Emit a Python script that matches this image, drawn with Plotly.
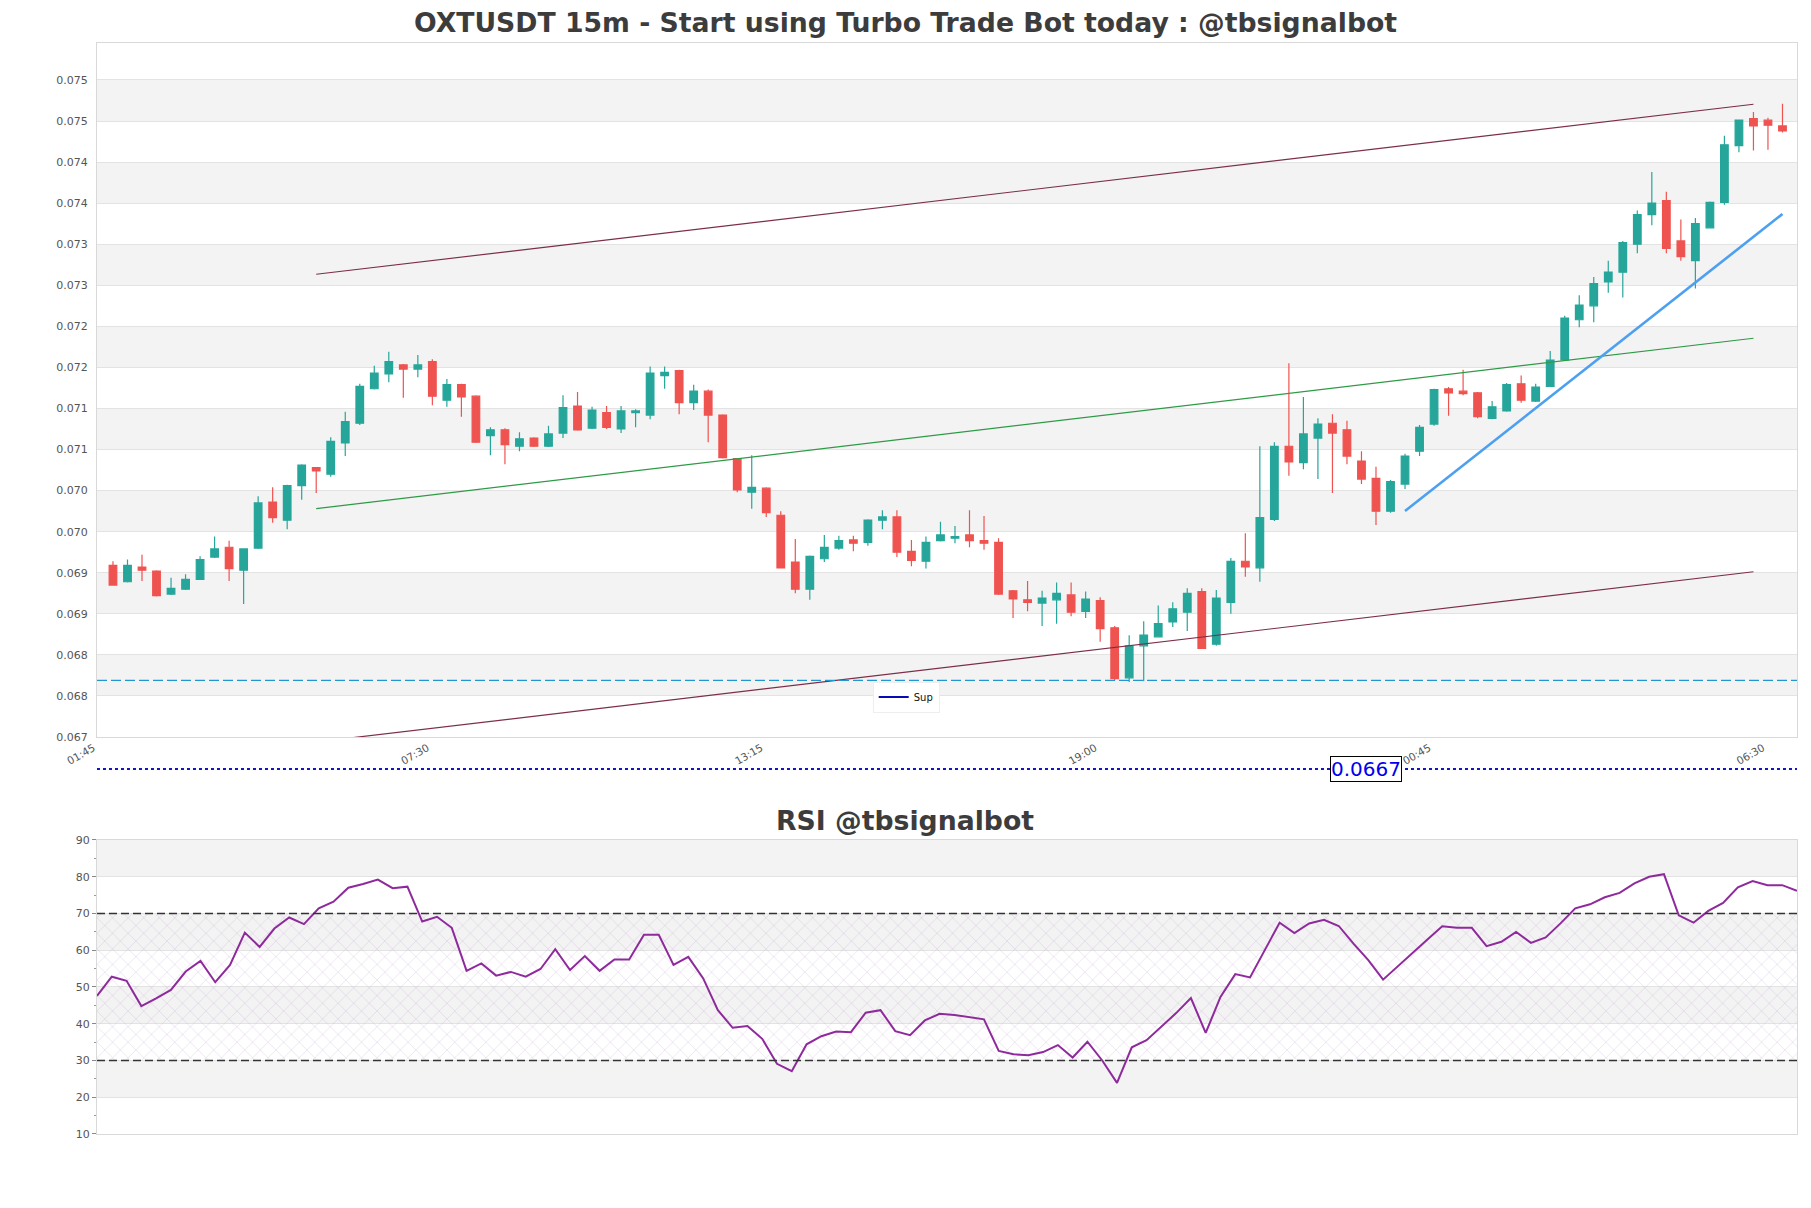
import numpy as np
import plotly.graph_objects as go

# === DATA (15m candles, first candle 02:00) ===
opens = [0.06909, 0.06889, 0.06907, 0.06902, 0.06874, 0.06880, 0.06892, 0.06919, 0.06931, 0.06903,
         0.06930, 0.06986, 0.06964, 0.07006, 0.07028, 0.07020, 0.07058, 0.07082, 0.07124, 0.07142,
         0.07153, 0.07148, 0.07157, 0.07110, 0.07129, 0.07115, 0.07067, 0.07074, 0.07054, 0.07064,
         0.07054, 0.07070, 0.07103, 0.07076, 0.07095, 0.07075, 0.07095, 0.07092, 0.07140, 0.07146,
         0.07107, 0.07121, 0.07092, 0.07039, 0.06998, 0.07003, 0.06970, 0.06913, 0.06880, 0.06917,
         0.06930, 0.06940, 0.06937, 0.06964, 0.06968, 0.06926, 0.06914, 0.06939, 0.06942, 0.06946,
         0.06939, 0.06937, 0.06878, 0.06867, 0.06863, 0.06867, 0.06873, 0.06853, 0.06866, 0.06833,
         0.06772, 0.06811, 0.06822, 0.06840, 0.06852, 0.06877, 0.06813, 0.06864, 0.06914, 0.06906,
         0.06965, 0.07054, 0.07034, 0.07064, 0.07082, 0.07074, 0.07036, 0.07015, 0.06975, 0.07008,
         0.07048, 0.07081, 0.07124, 0.07121, 0.07119, 0.07088, 0.07097, 0.07130, 0.07109, 0.07127,
         0.07159, 0.07208, 0.07225, 0.07254, 0.07266, 0.07300, 0.07336, 0.07353, 0.07304, 0.07280,
         0.07320, 0.07351, 0.07420, 0.07453, 0.07451, 0.07444]
highs = [0.06914, 0.06916, 0.06922, 0.06903, 0.06894, 0.06898, 0.06920, 0.06944, 0.06939, 0.06929,
         0.06993, 0.07004, 0.07007, 0.07032, 0.07028, 0.07065, 0.07096, 0.07130, 0.07152, 0.07169,
         0.07154, 0.07165, 0.07160, 0.07136, 0.07130, 0.07116, 0.07077, 0.07076, 0.07071, 0.07065,
         0.07079, 0.07116, 0.07120, 0.07102, 0.07103, 0.07103, 0.07099, 0.07151, 0.07151, 0.07147,
         0.07129, 0.07123, 0.07093, 0.07039, 0.07043, 0.07004, 0.06975, 0.06941, 0.06921, 0.06946,
         0.06945, 0.06945, 0.06965, 0.06976, 0.06976, 0.06940, 0.06944, 0.06962, 0.06957, 0.06976,
         0.06969, 0.06942, 0.06879, 0.06890, 0.06878, 0.06888, 0.06888, 0.06877, 0.06870, 0.06835,
         0.06824, 0.06841, 0.06860, 0.06864, 0.06881, 0.06881, 0.06879, 0.06918, 0.06948, 0.07054,
         0.07059, 0.07155, 0.07114, 0.07088, 0.07093, 0.07085, 0.07048, 0.07029, 0.07013, 0.07045,
         0.07080, 0.07124, 0.07126, 0.07147, 0.07120, 0.07109, 0.07131, 0.07140, 0.07130, 0.07170,
         0.07213, 0.07238, 0.07260, 0.07280, 0.07304, 0.07341, 0.07388, 0.07364, 0.07330, 0.07332,
         0.07352, 0.07432, 0.07451, 0.07461, 0.07454, 0.07471]
lows = [0.06884, 0.06888, 0.06890, 0.06871, 0.06873, 0.06879, 0.06891, 0.06918, 0.06890, 0.06862,
        0.06929, 0.06961, 0.06953, 0.06989, 0.06997, 0.07017, 0.07042, 0.07080, 0.07123, 0.07132,
        0.07113, 0.07138, 0.07104, 0.07102, 0.07090, 0.07058, 0.07043, 0.07032, 0.07048, 0.07053,
        0.07053, 0.07064, 0.07073, 0.07075, 0.07075, 0.07070, 0.07077, 0.07087, 0.07124, 0.07093,
        0.07098, 0.07059, 0.07039, 0.06998, 0.06978, 0.06968, 0.06905, 0.06875, 0.06867, 0.06913,
        0.06928, 0.06926, 0.06933, 0.06953, 0.06919, 0.06908, 0.06905, 0.06938, 0.06936, 0.06931,
        0.06928, 0.06873, 0.06845, 0.06853, 0.06835, 0.06838, 0.06847, 0.06845, 0.06816, 0.06769,
        0.06767, 0.06768, 0.06821, 0.06834, 0.06829, 0.06807, 0.06811, 0.06850, 0.06895, 0.06889,
        0.06963, 0.07018, 0.07026, 0.07014, 0.06997, 0.07032, 0.07008, 0.06958, 0.06973, 0.07002,
        0.07042, 0.07079, 0.07091, 0.07116, 0.07088, 0.07087, 0.07096, 0.07107, 0.07108, 0.07126,
        0.07158, 0.07199, 0.07205, 0.07241, 0.07235, 0.07289, 0.07323, 0.07289, 0.07280, 0.07246,
        0.07319, 0.07348, 0.07412, 0.07414, 0.07415, 0.07436]
closes = [0.06885, 0.06909, 0.06903, 0.06872, 0.06881, 0.06892, 0.06916, 0.06929, 0.06905, 0.06929,
          0.06985, 0.06967, 0.07006, 0.07031, 0.07024, 0.07060, 0.07084, 0.07127, 0.07143, 0.07157,
          0.07148, 0.07153, 0.07115, 0.07129, 0.07114, 0.07059, 0.07074, 0.07056, 0.07063, 0.07054,
          0.07069, 0.07101, 0.07074, 0.07098, 0.07077, 0.07097, 0.07097, 0.07143, 0.07144, 0.07107,
          0.07121, 0.07092, 0.07040, 0.07001, 0.07004, 0.06973, 0.06906, 0.06880, 0.06920, 0.06931,
          0.06939, 0.06936, 0.06964, 0.06968, 0.06925, 0.06915, 0.06937, 0.06946, 0.06944, 0.06939,
          0.06936, 0.06874, 0.06868, 0.06864, 0.06869, 0.06875, 0.06852, 0.06868, 0.06832, 0.06771,
          0.06811, 0.06824, 0.06838, 0.06856, 0.06875, 0.06808, 0.06869, 0.06914, 0.06907, 0.06967,
          0.07054, 0.07035, 0.07069, 0.07081, 0.07070, 0.07042, 0.07014, 0.06975, 0.07011, 0.07042,
          0.07077, 0.07123, 0.07119, 0.07118, 0.07090, 0.07102, 0.07129, 0.07110, 0.07126, 0.07159,
          0.07210, 0.07226, 0.07252, 0.07266, 0.07302, 0.07336, 0.07350, 0.07295, 0.07285, 0.07325,
          0.07351, 0.07421, 0.07451, 0.07444, 0.07445, 0.07438]

rsi = [47.6, 52.8, 51.7, 44.8, 46.9, 49.2, 54.2, 57.1, 51.3, 56.0,
       64.8, 60.9, 65.9, 68.9, 67.1, 71.4, 73.2, 77.0, 78.0, 79.2,
       76.9, 77.3, 67.8, 69.1, 66.1, 54.4, 56.4, 53.1, 54.1, 52.8,
       54.9, 60.3, 54.6, 58.4, 54.4, 57.5, 57.5, 64.2, 64.2, 56.0,
       58.2, 52.4, 43.7, 38.9, 39.4, 35.9, 29.1, 27.1, 34.4, 36.6,
       37.9, 37.7, 43.0, 43.7, 38.0, 36.9, 40.9, 42.7, 42.4, 41.9,
       41.2, 32.6, 31.7, 31.4, 32.3, 34.2, 30.8, 35.1, 30.0, 23.9,
       33.6, 35.5, 39.1, 42.9, 47.0, 37.5, 47.3, 53.5, 52.6, 60.0,
       67.5, 64.7, 67.3, 68.3, 66.6, 61.8, 57.3, 52.0, 55.7, 59.3,
       62.9, 66.5, 66.1, 66.1, 61.1, 62.3, 65.0, 62.0, 63.5, 67.3,
       71.4, 72.5, 74.4, 75.6, 78.2, 80.0, 80.7, 69.5, 67.5, 70.7,
       72.9, 77.1, 78.8, 77.7, 77.7, 76.2]

x_tick_pos = [-1, 22, 45, 68, 91, 114]
x_tick_text = ["01:45", "07:30", "13:15", "19:00", "00:45", "06:30"]
y_tick_text = ["0.067", "0.068", "0.068", "0.069", "0.069", "0.070", "0.070", "0.071", "0.071",
               "0.072", "0.072", "0.073", "0.073", "0.074", "0.074", "0.075", "0.075"]
rsi_ticks = [10, 20, 30, 40, 50, 60, 70, 80, 90]

# trend lines: (start candle, end candle, start price, end price)
channel_top = (14, 113, 0.072634, 0.074704)
channel_mid = (14, 113, 0.069780, 0.071855)
channel_bot = (14, 113, 0.066939, 0.069012)
trend_up = (89, 115, 0.069752, 0.073368)
support = 0.06769
level_value = 0.0667
rsi_high, rsi_low = 70, 30

GREEN = "#26a69a"
RED = "#ef5350"
GRID = "#e3e3e3"
BAND = "#f3f3f3"
FRAME = "#d9d9d9"

y_ticks = list(np.round(np.arange(0.067, 0.07501, 0.0005), 5))
idx = list(range(len(opens)))

fig = go.Figure()

fig.add_trace(go.Candlestick(
    x=idx, open=opens, high=highs, low=lows, close=closes,
    increasing=dict(line=dict(color=GREEN, width=1.2), fillcolor=GREEN),
    decreasing=dict(line=dict(color=RED, width=1.2), fillcolor=RED),
    whiskerwidth=0, showlegend=False, hoverinfo="skip",
    xaxis="x", yaxis="y"
))

for (i0, i1, p0, p1), col, w in [(channel_top, "#7d2e48", 1.2),
                                 (channel_mid, "#2f9a46", 1.2),
                                 (channel_bot, "#7d2e48", 1.2),
                                 (trend_up, "#4da0f0", 2.6)]:
    fig.add_trace(go.Scatter(x=[i0, i1], y=[p0, p1], mode="lines",
                             line=dict(color=col, width=w),
                             showlegend=False, hoverinfo="skip",
                             xaxis="x", yaxis="y"))

# legend entry
fig.add_trace(go.Scatter(x=[None], y=[None], mode="lines", name="Sup",
                         line=dict(color="#0a0ab4", width=2),
                         xaxis="x", yaxis="y"))

# RSI hatched zone 30..70
rsi_n = len(rsi) - 1
fig.add_trace(go.Scatter(
    x=[0, rsi_n, rsi_n, 0, 0], y=[rsi_low, rsi_low, rsi_high, rsi_high, rsi_low],
    mode="lines", line=dict(width=0), fill="toself",
    fillcolor="rgba(0,0,0,0)",
    fillpattern=dict(shape="x", fgcolor="rgba(175,135,195,0.6)", size=11, solidity=0.12),
    showlegend=False, hoverinfo="skip", xaxis="x2", yaxis="y2"
))

fig.add_trace(go.Scatter(x=list(range(len(rsi))), y=rsi, mode="lines",
                         line=dict(color="#8e2a9c", width=2),
                         showlegend=False, hoverinfo="skip",
                         xaxis="x2", yaxis="y2"))

shapes = []
# alternating background bands
for k in range(1, len(y_ticks) - 1, 2):
    shapes.append(dict(type="rect", xref="x domain", yref="y", x0=0, x1=1,
                       y0=y_ticks[k], y1=y_ticks[k + 1], fillcolor=BAND,
                       line=dict(width=0), layer="below"))
for k in range(1, len(rsi_ticks) - 1, 2):
    shapes.append(dict(type="rect", xref="x2 domain", yref="y2", x0=0, x1=1,
                       y0=rsi_ticks[k], y1=rsi_ticks[k + 1], fillcolor=BAND,
                       line=dict(width=0), layer="below"))
# support line
shapes.append(dict(type="line", xref="x domain", yref="y", x0=0, x1=1,
                   y0=support, y1=support,
                   line=dict(color="#2196d0", width=1.3, dash="10px,4px")))
# RSI 70 / 30
for lvl in (rsi_high, rsi_low):
    shapes.append(dict(type="line", xref="x2 domain", yref="y2", x0=0, x1=1,
                       y0=lvl, y1=lvl,
                       line=dict(color="#333333", width=1.3, dash="8px,4px")))
# level marker under the price axis
shapes.append(dict(type="line", xref="paper", yref="paper", x0=0, x1=1,
                   y0=0.3346, y1=0.3346,
                   line=dict(color="#1414c8", width=2, dash="dot")))

annotations = [
    dict(text="<b>RSI @tbsignalbot</b>", xref="paper", yref="paper",
         x=0.4753, y=0.2878, xanchor="center", yanchor="middle", showarrow=False,
         font=dict(family="DejaVu Sans", size=26.7, color="#3c3c3c")),
    dict(text=f"{level_value:.4f}", xref="paper", yref="paper",
         x=0.7465, y=0.3346, xanchor="center", yanchor="middle", showarrow=False,
         font=dict(family="DejaVu Sans", size=20, color="#0000ee"),
         bgcolor="white", bordercolor="black", borderwidth=1, borderpad=0),
]

axis_common = dict(showline=True, mirror=True, linecolor=FRAME, linewidth=1,
                   zeroline=False)

# the page adds an 8px body margin, so the figure is sized to fit inside the window
fig.update_layout(
    width=1795, height=1192,
    margin=dict(l=89, r=6, t=35, b=66),
    paper_bgcolor="white", plot_bgcolor="white",
    font=dict(family="DejaVu Sans", size=11, color="#555555"),
    boxgap=0.25,
    title=dict(text="<b>OXTUSDT 15m - Start using Turbo Trade Bot today : @tbsignalbot</b>",
               x=0.5, xref="container", xanchor="center",
               y=1 - 15 / 1192, yref="container", yanchor="middle",
               font=dict(family="DejaVu Sans", size=26.7, color="#3c3c3c")),
    xaxis=dict(domain=[0, 1], anchor="y", range=[-1.1, 116.0],
               tickvals=x_tick_pos, ticktext=x_tick_text, tickangle=-30,
               showgrid=False, ticks="", rangeslider=dict(visible=False),
               tickfont=dict(size=10.5), ticklabelshift=-5, **axis_common),
    yaxis=dict(domain=[0.3639, 1], anchor="x", range=[0.067, 0.07545],
               tickvals=y_ticks, ticktext=y_tick_text, showgrid=True,
               gridcolor=GRID, ticks="", ticklabelstandoff=6, **axis_common),
    xaxis2=dict(domain=[0, 1], anchor="y2", range=[0, rsi_n],
                showticklabels=False, showgrid=False, ticks="", **axis_common),
    yaxis2=dict(domain=[0, 0.2695], anchor="x2", range=[10, 90],
                tickvals=rsi_ticks, showgrid=True, gridcolor=GRID,
                ticks="outside", ticklen=4, tickcolor="#888",
                minor=dict(dtick=5, tick0=0, ticks="outside", ticklen=2,
                           tickcolor="#999", showgrid=False),
                **axis_common),
    shapes=shapes,
    annotations=annotations,
    showlegend=True,
    legend=dict(x=0.476, y=0.4005, xanchor="center", yanchor="middle",
                xref="paper", yref="paper", bgcolor="white",
                bordercolor="#eeeeee", borderwidth=1,
                font=dict(size=10, color="#111"), itemwidth=30),
    hovermode=False,
)

fig.write_html("out.html")
